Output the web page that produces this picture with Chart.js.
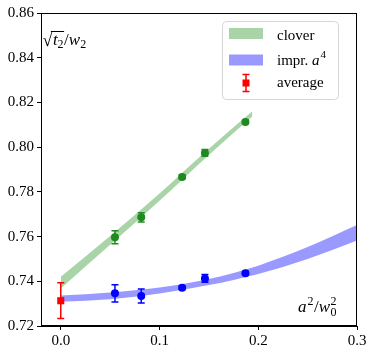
<!DOCTYPE html>
<html>
<head>
<meta charset="utf-8">
<script src="https://cdn.jsdelivr.net/npm/chart.js@4/dist/chart.umd.min.js"></script>
<style>
html,body{margin:0;padding:0;background:#fff;}
#wrap{width:374px;height:355px;position:relative;}
</style>
</head>
<body>
<div id="wrap"><canvas id="c" width="374" height="355"></canvas></div>
<script>
// ---- data ----
const xTicks = [0.0, 0.1, 0.2, 0.3];
const yTicks = [0.72, 0.74, 0.76, 0.78, 0.80, 0.82, 0.84, 0.86];

const ptX = [0.0549, 0.0815, 0.1229, 0.146, 0.187];
const cloverY = [0.7597, 0.7686, 0.7867, 0.7974, 0.8113];
const cloverErr = [0.0029, 0.0021, 0.0008, 0.0015, 0.0008];
const imprY = [0.7346, 0.7334, 0.7371, 0.7413, 0.7436];
const imprErr = [0.0039, 0.0031, 0.0008, 0.0017, 0.0008];
const avgX = [0.0];
const avgY = [0.7313];
const avgErr = [0.008];

const cloverBandX = [0, 0.05, 0.1, 0.15, 0.194];
const cloverBandUp = [0.7420, 0.7603, 0.7793, 0.7993, 0.8160];
const cloverBandLo = [0.7368, 0.7563, 0.7760, 0.7965, 0.8137];

const imprBandX = [0, 0.05, 0.1, 0.15, 0.2, 0.25, 0.3];
const imprBandUp = [0.7336, 0.7350, 0.7372, 0.7410, 0.7470, 0.7553, 0.7652];
const imprBandLo = [0.7309, 0.7320, 0.7345, 0.7383, 0.7433, 0.7500, 0.7582];

const legendLabels = ['clover', 'impr. ', 'average'];

// ---- styles ----
const FONT = 'Liberation Serif';
const GREEN_BAND = 'rgba(0,128,0,0.34)';
const BLUE_BAND = 'rgba(0,0,255,0.4)';
const GREEN = '#1f8a1f';
const BLUE = '#0000ff';
const RED = '#ff0000';

const xy = (xs, ys) => xs.map((x, i) => ({x: x, y: ys[i]}));

const errSets = [
  {idx: 0, errs: cloverErr, color: GREEN},
  {idx: 1, errs: imprErr, color: BLUE},
  {idx: 2, errs: avgErr, color: RED}
];

const errorBars = {
  id: 'errorBars',
  afterDatasetsDraw(chart) {
    const ctx = chart.ctx, ys = chart.scales.y;
    ctx.save();
    errSets.forEach(s => {
      const meta = chart.getDatasetMeta(s.idx);
      const ds = chart.data.datasets[s.idx];
      meta.data.forEach((el, i) => {
        const v = ds.data[i].y, e = s.errs[i];
        const x = el.x;
        const y1 = ys.getPixelForValue(v + e), y2 = ys.getPixelForValue(v - e);
        ctx.strokeStyle = s.color;
        ctx.lineWidth = 1.5;
        ctx.beginPath();
        ctx.moveTo(x, y1); ctx.lineTo(x, y2);
        ctx.moveTo(x - 3.5, y1); ctx.lineTo(x + 3.5, y1);
        ctx.moveTo(x - 3.5, y2); ctx.lineTo(x + 3.5, y2);
        ctx.stroke();
      });
    });
    ctx.restore();
  }
};

const decor = {
  id: 'decor',
  afterDraw(chart) {
    const ctx = chart.ctx, a = chart.chartArea;
    ctx.save();
    // frame
    ctx.strokeStyle = '#000';
    ctx.lineWidth = 1;
    ctx.strokeRect(Math.round(a.left) + 0.5, Math.round(a.top) + 0.5,
                   Math.round(a.right - a.left) - 1, Math.round(a.bottom - a.top) - 1);

    ctx.fillStyle = '#000';
    ctx.textBaseline = 'alphabetic';
    ctx.textAlign = 'left';
    // y label: sqrt(t2)/w2
    let x = 42.5, base = 45;
    ctx.font = '18px ' + FONT;
    ctx.fillText('\u221A', x, base + 1);
    x += ctx.measureText('\u221A').width;
    const olStart = x - 1.5;
    ctx.font = 'italic 17px ' + FONT;
    ctx.fillText('t', x + 0.5, base);
    x += ctx.measureText('t').width + 0.5;
    ctx.font = '12px ' + FONT;
    ctx.fillText('2', x, base + 3);
    x += ctx.measureText('2').width + 0.5;
    ctx.lineWidth = 1;
    ctx.beginPath(); ctx.moveTo(olStart, 31.5); ctx.lineTo(x, 31.5); ctx.stroke();
    ctx.font = '17px ' + FONT;
    ctx.fillText('/', x, base);
    x += ctx.measureText('/').width;
    ctx.font = 'italic 17px ' + FONT;
    ctx.fillText('w', x, base);
    x += ctx.measureText('w').width;
    ctx.font = '12px ' + FONT;
    ctx.fillText('2', x, base + 3);

    // x label: a^2/w0^2
    x = 298; base = 311.5;
    ctx.font = 'italic 17px ' + FONT;
    ctx.fillText('a', x, base);
    x += ctx.measureText('a').width + 1;
    ctx.font = '12px ' + FONT;
    ctx.fillText('2', x, base - 6.5);
    x += ctx.measureText('2').width + 0.5;
    ctx.font = '17px ' + FONT;
    ctx.fillText('/', x, base);
    x += ctx.measureText('/').width;
    ctx.font = 'italic 17px ' + FONT;
    ctx.fillText('w', x, base);
    x += ctx.measureText('w').width + 0.5;
    ctx.font = '12px ' + FONT;
    ctx.fillText('0', x, base + 4);
    ctx.fillText('2', x, base - 6.5);

    // legend
    const bx = 222.5, by = 21.5, bw = 116, bh = 78;
    ctx.beginPath();
    ctx.roundRect(bx, by, bw, bh, 4);
    ctx.fillStyle = 'rgba(255,255,255,0.8)';
    ctx.fill();
    ctx.strokeStyle = '#d6d6d6';
    ctx.lineWidth = 1;
    ctx.stroke();

    ctx.fillStyle = GREEN_BAND;
    ctx.fillRect(229, 28, 34, 11);
    ctx.fillStyle = BLUE_BAND;
    ctx.fillRect(229, 54.5, 34, 11);
    // red marker with error bar
    ctx.strokeStyle = RED; ctx.lineWidth = 1.5;
    ctx.beginPath();
    ctx.moveTo(246, 74.5); ctx.lineTo(246, 91.5);
    ctx.moveTo(242.5, 74.5); ctx.lineTo(249.5, 74.5);
    ctx.moveTo(242.5, 91.5); ctx.lineTo(249.5, 91.5);
    ctx.stroke();
    ctx.fillStyle = RED;
    ctx.fillRect(242.5, 79.5, 7, 7);

    ctx.fillStyle = '#000';
    ctx.font = '15px ' + FONT;
    ctx.fillText(legendLabels[0], 277, 39.5);
    ctx.fillText(legendLabels[1], 277, 65);
    let lx = 277 + ctx.measureText(legendLabels[1]).width;
    ctx.font = 'italic 15px ' + FONT;
    ctx.fillText('a', lx, 65);
    lx += ctx.measureText('a').width + 1;
    ctx.font = '11px ' + FONT;
    ctx.fillText('4', lx, 58);
    ctx.font = '15px ' + FONT;
    ctx.fillText(legendLabels[2], 277, 87);
    ctx.restore();
  }
};

Chart.defaults.font.family = FONT;
Chart.defaults.font.size = 15;
Chart.defaults.color = '#000';

new Chart(document.getElementById('c'), {
  type: 'scatter',
  data: {
    datasets: [
      {label: 'clover pts', data: xy(ptX, cloverY), backgroundColor: GREEN, borderColor: GREEN,
       pointRadius: 4, borderWidth: 0, order: 1},
      {label: 'impr pts', data: xy(ptX, imprY), backgroundColor: BLUE, borderColor: BLUE,
       pointRadius: 4, borderWidth: 0, order: 1},
      {label: 'average', data: xy(avgX, avgY), backgroundColor: RED, borderColor: RED,
       pointStyle: 'rect', pointRadius: 5, borderWidth: 0, order: 0},
      {type: 'line', label: 'clover lo', data: xy(cloverBandX, cloverBandLo), showLine: true,
       borderColor: 'transparent', borderWidth: 0, pointRadius: 0, fill: false,
       cubicInterpolationMode: 'monotone', order: 5},
      {type: 'line', label: 'clover', data: xy(cloverBandX, cloverBandUp), showLine: true,
       borderColor: 'transparent', borderWidth: 0, pointRadius: 0, fill: '-1',
       backgroundColor: GREEN_BAND, cubicInterpolationMode: 'monotone', order: 5},
      {type: 'line', label: 'impr lo', data: xy(imprBandX, imprBandLo), showLine: true,
       borderColor: 'transparent', borderWidth: 0, pointRadius: 0, fill: false,
       cubicInterpolationMode: 'monotone', order: 6},
      {type: 'line', label: 'impr. a^4', data: xy(imprBandX, imprBandUp), showLine: true,
       borderColor: 'transparent', borderWidth: 0, pointRadius: 0, fill: '-1',
       backgroundColor: BLUE_BAND, cubicInterpolationMode: 'monotone', order: 6}
    ]
  },
  options: {
    responsive: false,
    animation: false,
    layout: {padding: {top: 13, right: 17, left: 0, bottom: 0}},
    plugins: {legend: {display: false}, tooltip: {enabled: false}},
    scales: {
      x: {
        type: 'linear', min: -0.02, max: 0.3,
        afterBuildTicks: s => { s.ticks = xTicks.map(v => ({value: v})); },
        afterFit: s => { s.height = 29; },
        ticks: {callback: v => v.toFixed(1), padding: 2, maxRotation: 0},
        grid: {display: true, drawOnChartArea: false, drawTicks: true, tickLength: 4, color: '#000'},
        border: {display: true, color: '#000'}
      },
      y: {
        type: 'linear', min: 0.72, max: 0.86,
        afterBuildTicks: s => { s.ticks = yTicks.map(v => ({value: v})); },
        afterFit: s => { s.width = 41; },
        ticks: {callback: v => v.toFixed(2), padding: 3},
        grid: {display: true, drawOnChartArea: false, drawTicks: true, tickLength: 4, color: '#000'},
        border: {display: true, color: '#000'}
      }
    }
  },
  plugins: [errorBars, decor]
});
</script>
</body>
</html>
